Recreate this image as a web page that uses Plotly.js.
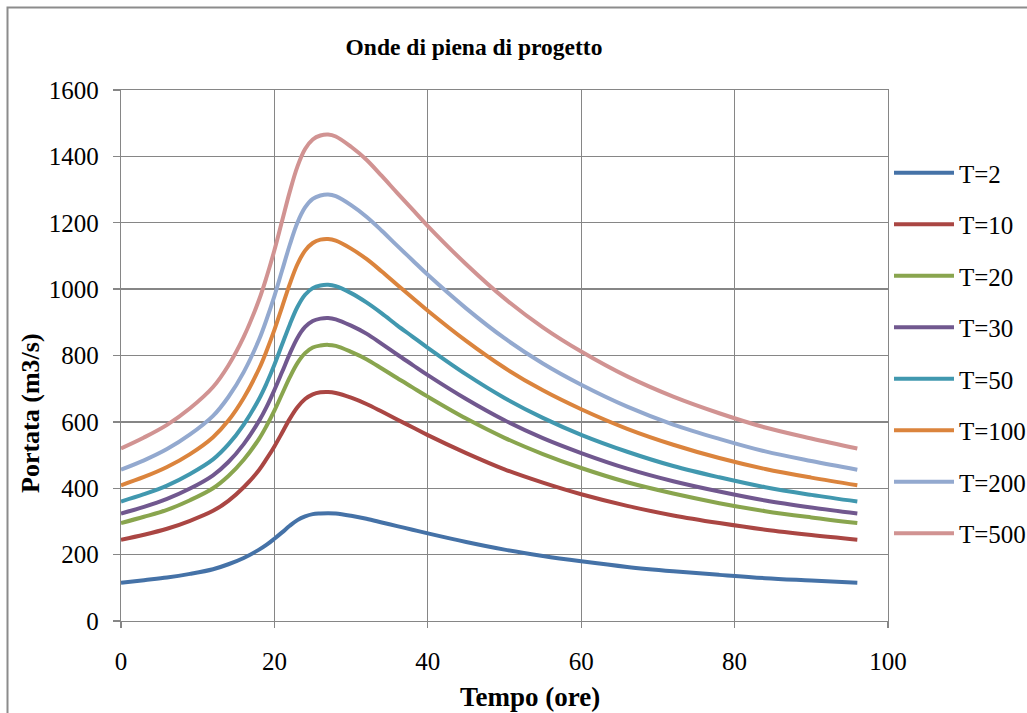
<!DOCTYPE html>
<html>
<head>
<meta charset="utf-8">
<script src="https://cdn.plot.ly/plotly-3.0.1.min.js"></script>
<style>
  html, body { margin: 0; padding: 0; background: #ffffff; }
  #chart { width: 1027px; height: 713px; }
</style>
</head>
<body>
<div id="chart"></div>
<script>
// Time (hours)
const tempo = [0, 3, 6, 9, 12, 14, 16, 18, 19, 20, 21, 22, 23, 24, 25, 26, 27, 28, 30, 32, 34, 36, 38, 40, 45, 50, 55, 60, 66, 72, 78, 84, 90, 96];

// Discharge (m3/s) per return period
const T2   = [115, 123, 131, 142, 156, 171, 190, 215, 230, 248, 267, 287, 304, 315, 322, 324, 325, 324, 317, 308, 297, 286, 275, 264, 238, 215, 196, 180, 163, 150, 139, 129, 122, 115];
const T10  = [245, 260, 278, 302, 332, 362, 403, 455, 489, 526, 567, 609, 644, 669, 683, 689, 690, 687, 673, 654, 631, 607, 584, 560, 506, 457, 417, 382, 347, 318, 295, 275, 259, 245];
const T20  = [295, 314, 335, 364, 400, 437, 486, 549, 589, 634, 684, 734, 777, 807, 824, 830, 832, 829, 811, 789, 761, 732, 704, 676, 610, 552, 503, 461, 418, 384, 355, 331, 312, 295];
const T30  = [324, 344, 368, 399, 439, 479, 533, 603, 646, 696, 750, 805, 853, 886, 904, 911, 913, 909, 890, 866, 835, 803, 772, 741, 669, 605, 551, 506, 459, 421, 390, 363, 342, 324];
const T50  = [360, 382, 408, 443, 487, 532, 592, 669, 717, 772, 833, 893, 946, 983, 1003, 1011, 1013, 1009, 988, 960, 927, 891, 857, 823, 743, 672, 612, 561, 510, 467, 433, 403, 380, 360];
const T100 = [409, 434, 464, 503, 554, 604, 672, 760, 815, 877, 946, 1015, 1075, 1116, 1139, 1149, 1151, 1146, 1122, 1091, 1053, 1013, 974, 935, 844, 763, 695, 638, 579, 531, 491, 458, 432, 409];
const T200 = [456, 484, 518, 562, 618, 675, 750, 848, 910, 979, 1056, 1133, 1200, 1246, 1272, 1282, 1285, 1280, 1253, 1218, 1176, 1131, 1087, 1043, 942, 852, 776, 712, 646, 592, 549, 511, 482, 456];
const T500 = [520, 553, 591, 641, 705, 770, 856, 968, 1038, 1117, 1205, 1293, 1369, 1422, 1451, 1463, 1466, 1460, 1429, 1390, 1341, 1290, 1240, 1190, 1075, 972, 885, 812, 737, 676, 626, 583, 550, 520];

const seriesNames  = ["T=2", "T=10", "T=20", "T=30", "T=50", "T=100", "T=200", "T=500"];
const seriesValues = [T2, T10, T20, T30, T50, T100, T200, T500];
const seriesColors = ["#4572A7", "#AA4643", "#89A54E", "#71588F", "#4198AF", "#DB843D", "#93A9CF", "#D19392"];

const xTicks = [0, 20, 40, 60, 80, 100];
const yTicks = [0, 200, 400, 600, 800, 1000, 1200, 1400, 1600];

const FONT = "Liberation Serif";
const GRID = "#868686";

const traces = seriesNames.map((name, i) => ({
  x: tempo,
  y: seriesValues[i],
  name: name,
  legendgroup: name,
  type: "scatter",
  mode: "lines",
  line: { color: seriesColors[i], width: 4, shape: "spline", smoothing: 1 },
  hoverinfo: "skip"
}));

const layout = {
  width: 1027,
  height: 713,
  paper_bgcolor: "#ffffff",
  plot_bgcolor: "#ffffff",
  margin: { l: 121, r: 139, t: 90, b: 92, autoexpand: false },
  font: { family: FONT, size: 25, color: "#000000" },
  title: {
    text: "<b>Onde di piena di progetto</b>",
    font: { family: FONT, size: 23.5, color: "#000000" },
    xref: "container", yref: "container",
    x: 474 / 1027, xanchor: "center",
    y: 1 - 47 / 713, yanchor: "middle"
  },
  xaxis: {
    range: [0, 100],
    tickvals: xTicks,
    ticktext: xTicks.map(String),
    showgrid: true, gridcolor: GRID, gridwidth: 1.3,
    showline: true, linecolor: GRID, linewidth: 1.3, mirror: true,
    zeroline: false,
    ticks: "outside", ticklen: 6, tickwidth: 1.3, tickcolor: GRID,
    ticklabelstandoff: 12,
    tickfont: { family: FONT, size: 25, color: "#000000" },
    fixedrange: true
  },
  yaxis: {
    range: [0, 1600],
    tickvals: yTicks,
    ticktext: yTicks.map(String),
    showgrid: true, gridcolor: GRID, gridwidth: 1.3,
    showline: true, linecolor: GRID, linewidth: 1.3, mirror: true,
    zeroline: false,
    ticks: "outside", ticklen: 7, tickwidth: 1.3, tickcolor: GRID,
    ticklabelstandoff: 9,
    tickfont: { family: FONT, size: 25, color: "#000000" },
    fixedrange: true
  },
  showlegend: true,
  legend: {
    x: (889 - 121) / 767, xanchor: "left",
    y: (621 - 150) / 531, yanchor: "top",
    bgcolor: "rgba(0,0,0,0)",
    borderwidth: 0,
    font: { family: FONT, size: 25, color: "#000000" },
    tracegroupgap: 16,
    itemwidth: 60,
    traceorder: "grouped"
  },
  annotations: [
    {
      text: "<b>Portata (m3/s)</b>",
      xref: "paper", yref: "paper",
      x: (30 - 121) / 767, y: (621 - 413) / 531,
      xanchor: "center", yanchor: "middle",
      textangle: -90, showarrow: false,
      font: { family: FONT, size: 26, color: "#000000" }
    },
    {
      text: "<b>Tempo (ore)</b>",
      xref: "paper", yref: "paper",
      x: (530 - 121) / 767, y: (621 - 697) / 531,
      xanchor: "center", yanchor: "middle",
      showarrow: false,
      font: { family: FONT, size: 27, color: "#000000" }
    }
  ],
  shapes: [
    {
      type: "rect", xref: "paper", yref: "paper",
      x0: (7.5 - 121) / 767, x1: (1040 - 121) / 767,
      y0: (621 - 730) / 531, y1: (621 - 7.5) / 531,
      line: { color: "#8c8c8c", width: 2 },
      fillcolor: "rgba(0,0,0,0)",
      layer: "below"
    }
  ]
};

Plotly.newPlot("chart", traces, layout, { displayModeBar: false, staticPlot: true });
</script>
</body>
</html>
